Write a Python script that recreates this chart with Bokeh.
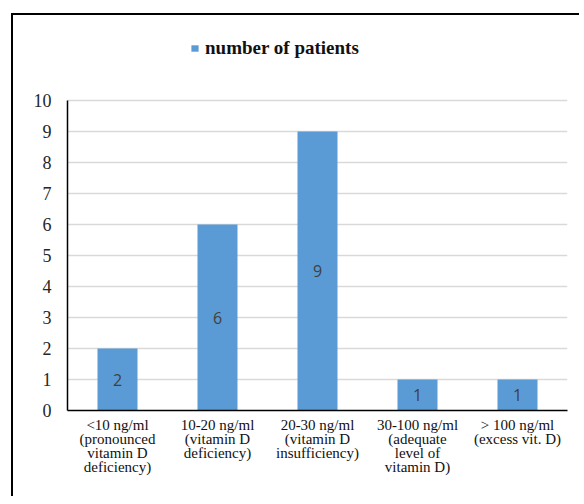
from bokeh.plotting import figure
from bokeh.models import ColumnDataSource, FactorRange, Range1d, Legend, LegendItem, FixedTicker
from bokeh.core.properties import value
from bokeh.embed import file_html
from bokeh.resources import INLINE

categories = [
    "<10 ng/ml\n(pronounced\nvitamin D\ndeficiency)",
    "10-20 ng/ml\n(vitamin D\ndeficiency)",
    "20-30 ng/ml\n(vitamin D\ninsufficiency)",
    "30-100 ng/ml\n(adequate\nlevel of\nvitamin D)",
    "> 100 ng/ml\n(excess vit. D)",
]
patients = [2, 6, 9, 1, 1]
y_ticks = list(range(0, 11))
series_name = "number of patients"

src = ColumnDataSource(dict(
    cat=categories,
    val=patients,
    mid=[v / 2 for v in patients],
    lbl=[str(v) for v in patients],
))

p = figure(
    width=568, height=483,
    x_range=FactorRange(factors=categories, range_padding=0),
    y_range=Range1d(0, 12.065),
    output_backend="svg", toolbar_location=None,
    min_border_left=54, min_border_right=14, min_border_top=21, min_border_bottom=88,
)
p.styles = {"margin-left": "11px", "margin-top": "13px",
            "border-left": "2px solid #000", "border-top": "2px solid #000"}
p.outline_line_color = None
p.background_fill_color = "white"
p.border_fill_color = "white"

bars = p.vbar(x="cat", top="val", width=0.4, source=src,
              fill_color="#5b9bd5", line_color=None)
p.text(x="cat", y="mid", text="lbl", source=src,
       text_align="center", text_baseline="middle",
       text_font=value("Open Sans"), text_font_size="16px", text_color="#404040")

p.xgrid.grid_line_color = None
p.ygrid.grid_line_color = "#d9d9d9"
p.ygrid.grid_line_width = 1.5
p.yaxis.ticker = FixedTicker(ticks=y_ticks)
p.yaxis.bounds = (y_ticks[0], y_ticks[-1])

for ax in (p.xaxis[0], p.yaxis[0]):
    ax.axis_line_color = "#000000"
    ax.axis_line_width = 1.5
    ax.major_tick_line_color = None
    ax.minor_tick_line_color = None
    ax.major_label_text_font = "Liberation Serif"
    ax.major_label_text_color = "#262626"

p.yaxis.major_label_text_font_size = "18px"
p.yaxis.major_label_standoff = 10
p.xaxis.major_label_standoff = 0
p.xaxis.major_label_text_line_height = 0.88
p.xaxis.major_label_text_font_size = "15px"
p.xaxis.major_label_text_color = "#111111"

legend = Legend(items=[LegendItem(label=series_name, renderers=[bars])],
                location=(123, 351), orientation="horizontal",
                border_line_color=None, background_fill_alpha=0,
                padding=0, margin=0, glyph_width=9, glyph_height=8,
                label_standoff=6, label_text_font="Liberation Serif",
                label_text_font_size="19px", label_text_font_style="bold",
                label_text_color="#111111")
p.add_layout(legend, "center")

open("out.html", "w").write(file_html(p, INLINE))
